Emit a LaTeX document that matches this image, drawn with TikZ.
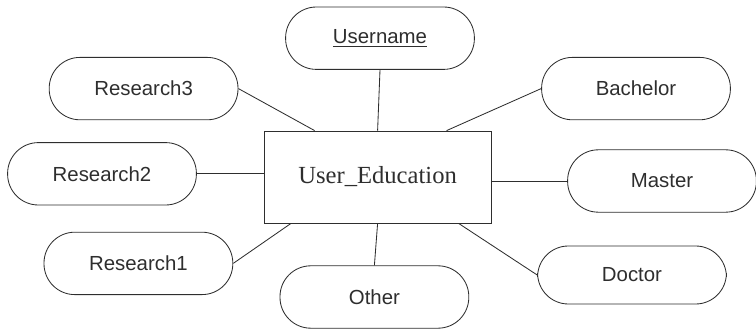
\documentclass[tikz,border=0pt]{standalone}
\usepackage{fontspec}
\setmainfont{Liberation Serif}
\setsansfont{Liberation Sans}
\definecolor{ink}{HTML}{2E2E2E}
\tikzset{
  attr/.style = {draw=ink, text=ink, line width=0.6pt, rounded corners=0.77cm,
    minimum width=4.72cm, minimum height=1.56cm, font=\sffamily\fontsize{14.5}{16}\selectfont},
  entity/.style = {draw=ink, text=ink, line width=0.6pt, minimum width=5.67cm,
    minimum height=2.3cm, font=\rmfamily\fontsize{17.5}{20}\selectfont},
  link/.style = {draw=ink, line width=0.6pt}
}
\begin{document}
\begin{tikzpicture}

\useasboundingbox (0,0) rectangle (18.9,8.225);

\node[entity] (ue) at (9.44,3.8) {User\_Education};

\node[attr] (un) at (9.5,7.27) {\underline{Username}};
\node[attr] (r3) at (3.59,6.01) {Research3};
\node[attr] (r2) at (2.55,3.88) {Research2};
\node[attr] (r1) at (3.46,1.64) {Research1};
\node[attr] (ot) at (9.36,0.8) {Other};
\node[attr] (ba) at (15.9,6.01) {Bachelor};
\node[attr] (ma) at (16.55,3.7) {Master};
\node[attr, minimum height=1.45cm] (dr) at (15.8,1.35) {Doctor};

\draw[link] (un.south) -- (ue.north);
\draw[link] (r3.east) -- ([xshift=1.27cm]ue.north west);
\draw[link] (r2.east) -- (r2.east -| ue.west);
\draw[link] (r1.east) -- ([xshift=0.68cm]ue.south west);
\draw[link] (ue.south) -- (ot.north);
\draw[link] (ba.west) -- ([xshift=-1.12cm]ue.north east);
\draw[link] (ma.west -| ue.east) -- (ma.west);
\draw[link] (dr.west) -- ([xshift=-0.82cm]ue.south east);

\end{tikzpicture}
\end{document}
